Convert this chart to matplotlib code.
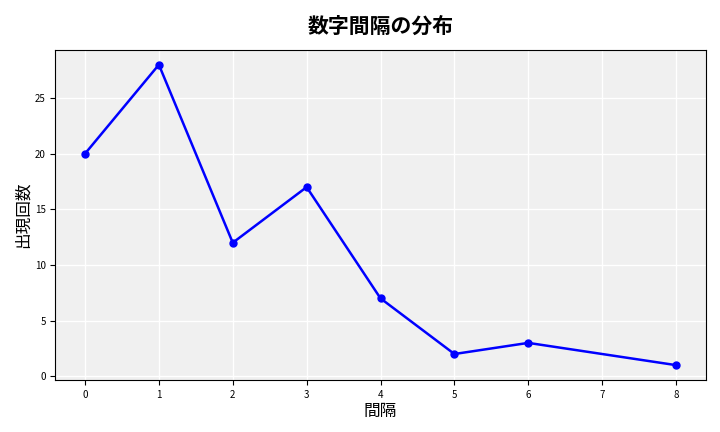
import matplotlib
matplotlib.use("Agg")
import matplotlib.pyplot as plt

plt.rcParams['font.family'] = ['Noto Sans CJK JP', 'DejaVu Sans']

gaps = [0, 1, 2, 3, 4, 5, 6, 8]
counts = [20, 28, 12, 17, 7, 2, 3, 1]

fig, ax = plt.subplots(figsize=(7.2, 4.32), dpi=100)
ax.set_facecolor("#f0f0f0")
ax.grid(True, color="white", linewidth=1)
ax.set_axisbelow(True)
ax.plot(gaps, counts, color="blue", marker="o", markersize=5, linewidth=1.8)

ax.set_title("数字間隔の分布", fontsize=15, fontweight="bold", pad=12)
ax.set_xlabel("間隔", fontsize=12, labelpad=2)
ax.set_ylabel("出現回数", fontsize=12, labelpad=2)
ax.set_xticks(range(0, 9))
ax.tick_params(labelsize=7)

fig.subplots_adjust(left=0.077, right=0.98, top=0.885, bottom=0.12)
fig.savefig("out.png", dpi=100)
